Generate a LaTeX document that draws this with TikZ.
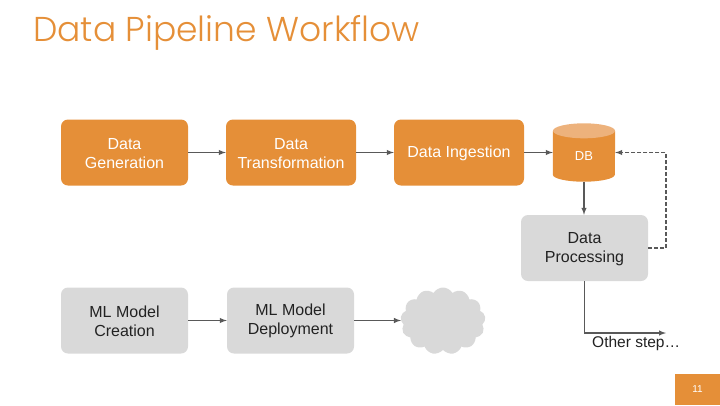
\documentclass[tikz,border=0pt]{standalone}
\usepackage{fontspec}
\setmainfont{Liberation Sans}
\newfontfamily\titlefont{Poppins Light}
\usetikzlibrary{shapes}
\usetikzlibrary{shapes.geometric}
\usetikzlibrary{shapes.symbols}
\usetikzlibrary{arrows}
\usetikzlibrary{positioning}
\usetikzlibrary{calc}
\definecolor{stage}{HTML}{E58F38}
\definecolor{stagetop}{HTML}{EDB27C}
\definecolor{later}{HTML}{D9D9D9}
\definecolor{wire}{HTML}{595959}
\definecolor{caption}{HTML}{222222}
\begin{document}
\begin{tikzpicture}[
  x=1pt,y=-1pt,
  dep/.style ={
    -latex,line width=1.4pt,draw=wire
  },
  back/.style ={
    -latex,line width=1.4pt,draw=wire,dash pattern=on 4pt off 2pt
  },
  block/.style 2 args={
    rectangle,
    rounded corners=7pt,
    draw=none,
    fill=#1,
    text=#2,
    inner sep=0pt,
    minimum width=127pt,
    minimum height=66pt,
    align=center,
    font=\fontsize{16}{19}\selectfont},
]

  \useasboundingbox (0,0) rectangle (720,405);

  \node[anchor=base west,text=stage,inner sep=0pt,
      font=\titlefont\fontsize{34.5}{40}\selectfont] (title) at (33,41)
      {Data Pipeline Workflow};

    % Top row
  \node[block={stage}{white}] (gen) at (124.5,152.5) {\rule{0pt}{12.5pt}Data\\Generation};
  \node[block={stage}{white},minimum width=130pt] (trans) at (291,152.5)
      {\rule{0pt}{12.5pt}Data\\Transformation};
  \node[block={stage}{white},minimum width=130pt] (ingest) at (459,152.5)
      {\rule{0pt}{14pt}Data Ingestion};

    % Store
  \node[rectangle,inner sep=0pt,minimum width=62pt,minimum height=58pt] (db) at (584,152.5) {};
  \fill[stage] ($(db.north west)+(0,7.5)$) -- ($(db.south west)+(0,-7)$)
      arc[start angle=180,end angle=360,x radius=31pt,y radius=7pt]
      -- ($(db.north east)+(0,7.5)$) -- cycle;
  \node[ellipse,fill=stagetop,inner sep=0pt,minimum width=62pt,minimum height=15pt]
      (dbtop) at ($(db.north)+(0,7.5)$) {};
  \node[text=white,font=\fontsize{13}{15}\selectfont,inner sep=0pt] (dbtext)
      at (584,156) {DB};

  \node[block={later}{caption}] (proc) at (584.5,248) {\rule{0pt}{12.5pt}Data\\Processing};

    % Bottom row
  \node[block={later}{caption}] (create) at (124.5,320.5) {\rule{0pt}{12.5pt}ML Model\\Creation};
  \node[block={later}{caption}] (deploy) at (290.5,320.5) {\rule{0pt}{12.5pt}ML Model\\Deployment};
  \node[cloud,cloud puffs=13,cloud puff arc=120,aspect=1.3,draw=none,fill=later,
      inner sep=0pt,minimum width=85pt,minimum height=67pt] (cloud) at (443,321) {};

  \node[anchor=base west,text=caption,inner sep=0pt,
      font=\fontsize{15.5}{19}\selectfont] (other) at (592,347) {Other step\dots};
  \coordinate (otherend) at (666,333);
  \coordinate (backcorner) at (666,152.5);

    % Page number
  \node[rectangle,fill=stage,text=white,inner sep=0pt,minimum width=45pt,
      minimum height=31pt,font=\fontsize{10}{12}\selectfont] (page) at (697.5,389.5) {11};

    % Connectors
  \draw[dep] (gen.east) -- (trans.west);
  \draw[dep] (trans.east) -- (ingest.west);
  \draw[dep] (ingest.east) -- (db.west);
  \draw[dep] (db.south) -- (db.south |- proc.north);
  \draw[back] (proc.east) -| (backcorner) -- (db.east);
  \draw[dep] (proc.south) |- (otherend);
  \draw[dep] (create.east) -- (deploy.west);
  \draw[dep] (deploy.east) -- (deploy.east -| cloud.west);

\end{tikzpicture}
\end{document}
